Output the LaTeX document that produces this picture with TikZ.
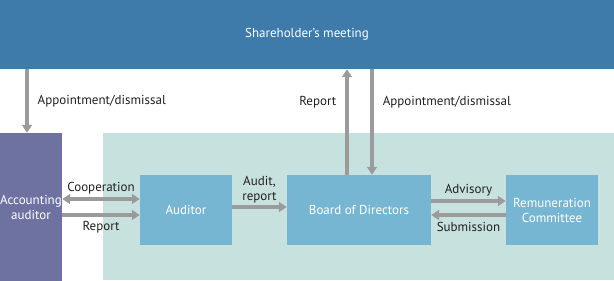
\documentclass[tikz,border=0pt]{standalone}
\usepackage{fontspec}
\setmainfont{PT Sans}
\usepackage{tikz}
\usetikzlibrary{arrows.meta,positioning}
\definecolor{GBanner}{HTML}{3E7AAA}
\definecolor{GPurple}{HTML}{6D72A1}
\definecolor{GTeal}{HTML}{C7E2DE}
\definecolor{GBox}{HTML}{76B6D2}
\definecolor{GArrow}{HTML}{9B9B9B}
\definecolor{GText}{HTML}{231F20}

\begin{document}
\begin{tikzpicture}[
  x=1pt,y=-1pt,
  font=\fontsize{13}{15}\selectfont,
  b/.style={fill=GBox,text=white,inner sep=0pt,align=center,
    minimum height=70pt},
  lbl/.style={text=GText,inner sep=2pt,align=center},
  a/.style={-{Triangle[length=8pt,width=10pt]},line width=3.5pt,color=GArrow},
  aa/.style={{Triangle[length=8pt,width=10pt]}-{Triangle[length=8pt,width=10pt]},
    line width=3.5pt,color=GArrow}
]
  \useasboundingbox (0,0) rectangle (614,281);
  \fill[GTeal] (103,133) rectangle (614,280);
  \node[fill=GBanner,text=white,minimum width=614pt,minimum height=70pt,
    inner sep=0pt] (meeting) at (307,34) {Shareholder's meeting};
  \node[fill=GPurple,text=white,minimum width=62pt,minimum height=148pt,
    inner sep=0pt,align=center] (accaud) at (31,207) {Accounting\\auditor};
  \node[b,minimum width=92pt] (auditor) at (186,210) {Auditor};
  \node[b,minimum width=144pt] (board) at (359,210) {Board of Directors};
  \node[b,minimum width=92pt] (remcom) at (552,210) {Remuneration\\Committee};
  % to and from the meeting
  \draw[a] ([xshift=-4pt]accaud.north |- meeting.south) --
    node[lbl,right=7pt] {Appointment/dismissal} ([xshift=-4pt]accaud.north);
  \draw[a] ([xshift=-12pt]board.north) --
    node[lbl,left=7pt,pos=0.69] {Report} ([xshift=-12pt]board.north |- meeting.south);
  \draw[a] ([xshift=13pt]board.north |- meeting.south) --
    node[lbl,right=7pt,pos=0.31] {Appointment/dismissal} ([xshift=13pt]board.north);
  % boxes in a row
  \draw[aa] ([yshift=11pt]auditor.west -| accaud.east) --
    node[lbl,above=1.5pt] {Cooperation} ([yshift=11pt]auditor.west);
  \draw[a] ([yshift=-5pt]auditor.west -| accaud.east) --
    node[lbl,below=3pt] {Report} ([yshift=-5pt]auditor.west);
  \draw[a] ([yshift=3pt]auditor.east) --
    node[lbl,above=0pt] {Audit,\\report} ([yshift=3pt]board.west);
  \draw[a] ([yshift=9pt]board.east) --
    node[lbl,above=1.5pt] {Advisory} ([yshift=9pt]remcom.west);
  \draw[a] ([yshift=-5pt]remcom.west) --
    node[lbl,below=3pt] {Submission} ([yshift=-5pt]board.east);
\end{tikzpicture}
\end{document}
